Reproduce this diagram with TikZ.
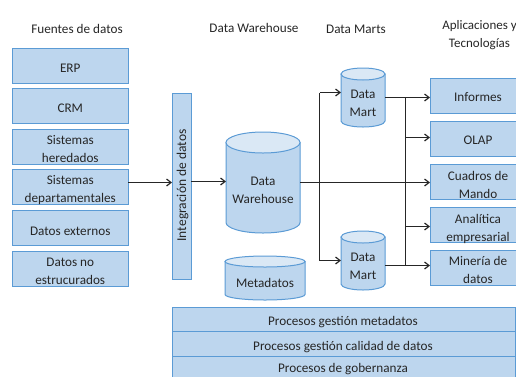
\documentclass[tikz,border=0pt]{standalone}
\usepackage{fontspec}
\setmainfont{Carlito}
\usetikzlibrary{arrows.meta,calc}
\definecolor{boxfill}{RGB}{189,214,238}
\definecolor{boxedge}{RGB}{91,155,213}
\definecolor{capfill}{RGB}{218,232,245}
\definecolor{ink}{RGB}{38,38,38}
\tikzset{
  base/.style={font=\fontsize{13.2}{18}\selectfont,text=ink,align=center,inner sep=0pt,outer sep=0pt},
  boxn/.style={draw=boxedge,fill=boxfill,line width=1pt,rectangle,inner sep=0pt,outer sep=0pt},
  src/.style={boxn,minimum width=115.5pt,minimum height=35pt},
  app/.style={boxn,minimum width=90pt,minimum height=35pt},
  proc/.style={boxn,minimum width=343pt,minimum height=24.5pt},
  cylbox/.style={rectangle,inner sep=0pt,outer sep=0pt},
  cylline/.style={draw=boxedge,line width=1pt},
  arr/.style={draw=ink,line width=1.4pt,-{Straight Barb[length=4.5pt,width=7pt,line width=1.2pt]}},
  lin/.style={draw=ink,line width=1.4pt}
}
% #1 node name, #2 half height of the end ellipse in pt
\newcommand{\cylshape}[2]{%
  \path let \p1=(#1.north west),\p2=(#1.south east),\n1={(\x2-\x1)/2} in
    [cylline,fill=boxfill]
    ([yshift=-#2pt]#1.north west) -- ([yshift=#2pt]#1.south west)
    arc[start angle=180,end angle=360,x radius=\n1,y radius=#2pt]
    -- ([yshift=-#2pt]#1.north east) -- cycle;
  \path let \p1=(#1.north west),\p2=(#1.south east),\n1={(\x2-\x1)/2} in
    [cylline,fill=capfill]
    ([yshift=-#2pt]#1.north) ellipse[x radius=\n1,y radius=#2pt];
}
\begin{document}
\begin{tikzpicture}[x=1pt,y=-1pt]
\useasboundingbox (0,0) rectangle (516,376);
% headings
\node[base] (h1) at (77,29) {Fuentes de datos};
\node[base] (h2) at (254,28) {Data Warehouse};
\node[base] (h3) at (356,29) {Data Marts};
\node[base,font=\fontsize{13}{18}\selectfont] (h4) at (479.5,35.5) {Aplicaciones y\\Tecnologías};
% sources
\node[src] (erp) at (70.25,65.5) {};
\node[src] (crm) at (70.25,106) {};
\node[src] (her) at (70.25,146.5) {};
\node[src] (dep) at (70.25,186.5) {};
\node[src] (ext) at (70.25,228) {};
\node[src] (noe) at (70.25,268.5) {};
\node[base] (erpt) at (70.25,68.5) {ERP};
\node[base] (crmt) at (70.25,108) {CRM};
\node[base] (hert) at (70.25,149) {Sistemas\\heredados};
\node[base] (dept) at (70.25,190.5) {Sistemas\\departamentales};
\node[base] (extt) at (70.25,231) {Datos externos};
\node[base] (noet) at (70.25,271) {Datos no\\estrucurados};
% integration
\node[boxn,minimum width=19pt,minimum height=186pt] (int) at (181.5,186) {};
\node[base,font=\fontsize{13.5}{18}\selectfont,rotate=90] (intt) at (182.5,185.5) {Integración de datos};
% warehouse
\node[cylbox,minimum width=74pt,minimum height=101pt] (dw) at (263,182.5) {};
\cylshape{dw}{10.5}
\node[base] (dwt) at (263,190) {Data\\Warehouse};
\node[cylbox,minimum width=80pt,minimum height=44pt] (md) at (265,278) {};
\cylshape{md}{5.5}
\node[base] (mdt) at (265,283) {Metadatos};
% marts
\node[cylbox,minimum width=44pt,minimum height=59pt] (dm1) at (363,97.5) {};
\cylshape{dm1}{6}
\node[base] (dm1t) at (363,103) {Data\\Mart};
\node[cylbox,minimum width=44pt,minimum height=59pt] (dm2) at (363,260.5) {};
\cylshape{dm2}{6}
\node[base] (dm2t) at (363,266) {Data\\Mart};
% applications
\node[app] (inf) at (475,95.5) {};
\node[base] (inft) at (478,97) {Informes};
\node[app] (ola) at (475,138.5) {};
\node[base] (olat) at (478,140) {OLAP};
\node[app] (cua) at (475,181.5) {};
\node[base] (cuat) at (478,185) {Cuadros de\\Mando};
\node[app] (ana) at (475,224.5) {};
\node[base] (anat) at (478,228.5) {Analítica\\empresarial};
\node[app] (min) at (475,267.5) {};
\node[base] (mint) at (478,270) {Minería de\\datos};
% processes
\node[proc] (p1) at (343.5,319.25) {};
\node[base] (p1t) at (343,322) {Procesos gestión metadatos};
\node[proc] (p2) at (343.5,344) {};
\node[base] (p2t) at (343,347) {Procesos gestión calidad de datos};
\node[proc] (p3) at (343.5,368.5) {};
\node[base] (p3t) at (343,369.5) {Procesos de gobernanza};
% routing coordinates
\coordinate (r1) at (0,182.5);
\coordinate (r2) at (0,181.5);
\coordinate (busa) at (319.5,0);
\coordinate (busb) at (405.5,0);
\coordinate (in1) at (0,92.5);
\coordinate (in2) at (0,260.5);
\coordinate (out1) at (0,97.5);
\coordinate (out2) at (0,265.5);
\coordinate (rola) at (0,137.5);
\coordinate (rana) at (0,226.5);
% connectors
\draw[arr] (dep.east |- r1) -- (int.west |- r1);
\draw[arr] (int.east |- r2) -- (dw.west |- r2);
\draw[arr] (dw.east |- r1) -- (cua.west |- r1);
\draw[lin] (busa |- r1) -- (busa |- in1);
\draw[lin] (busa |- r1) -- (busa |- in2);
\draw[arr] (busa |- in1) -- (dm1.west |- in1);
\draw[arr] (busa |- in2) -- (dm2.west |- in2);
\draw[arr] (dm1.east |- out1) -- (inf.west |- out1);
\draw[arr] (dm2.east |- out2) -- (min.west |- out2);
\draw[lin] (busb |- out1) -- (busb |- out2);
\draw[arr] (busb |- rola) -- (ola.west |- rola);
\draw[arr] (busb |- rana) -- (ana.west |- rana);
\end{tikzpicture}
\end{document}
